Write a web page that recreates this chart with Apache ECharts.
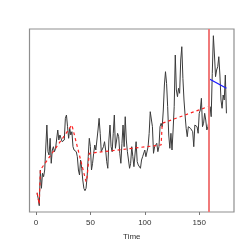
<!DOCTYPE html>
<html><head><meta charset="utf-8">
<script src="https://cdn.jsdelivr.net/npm/echarts@6/dist/echarts.min.js"></script>
<style>html,body{margin:0;padding:0;background:#fff}#c{width:249px;height:249px}</style>
</head><body><div id="c"></div>
<script>
// observed series (time = 1..175)
const values = [18.7,13.7,6.3,42,23.7,38.7,35.3,42,43.7,87,60.3,57,73.7,48.7,62,65.3,60.3,63.7,63.7,82,
72,77,75.3,70.3,72,72,93.7,97,85.3,73.7,83.7,77,80.3,65.3,62,62,60.3,55.3,42,37,
52,43.7,32,23.7,21.3,23.7,35.3,55.3,73.7,65.3,42,48.7,58.7,67,62,72,82,93.7,78.7,60.3,
60.3,65.3,70.3,62,50.3,43.7,72,87,65.3,60.3,78.7,97,63.7,62,78.7,75.3,58.7,48.7,68.7,87,
65.3,95.3,72,60.3,58.7,43.7,48.7,65.3,55.3,45.3,47,70.3,50.3,47,48.7,43.7,52,55.3,55.3,
62,55.3,57,65.3,78.7,100.3,102,85.3,58.7,65.3,65.3,68.7,60.3,65.3,85.3,88.7,85.3,102,127,140.3,
128.7,105.3,77,63.7,78.7,62,82,105.3,157,122,115.3,123.7,118.7,152,165.3,133.7,112,97,83.7,75.3,
85.3,85.3,83.7,83.7,80.3,65.3,87,88.7,85.3,78.7,98.7,102,113.7,85.3,88.7,98.7,92,82,85.3,92,
105.3,95.3,138.7,176.3,157,135.3,142,145.3,155.3,137,112,103.7,117,112,137,98.7];
const startTime = 1;
// fitted (red dashed) piecewise trend
const fitTime  = [1, 3, 4, 33, 46, 47, 49, 115, 116, 158];
const fitValue = [19.3, 8, 42, 87, 30.3, 35.3, 58.7, 67, 88.7, 105.3];
// forecast (blue)
const fcTime  = [159.8, 175];
const fcValue = [132.7, 123.7];
// break point (vertical red line)
const breakTime = 158.5;
const xTicks = [0, 50, 100, 150];

const obs = values.map((v, i) => [startTime + i, v]);
const fit = fitTime.map((t, i) => [t, fitValue[i]]);
const fc = fcTime.map((t, i) => [t, fcValue[i]]);

const chart = echarts.init(document.getElementById('c'), null, {renderer: 'canvas'});
chart.setOption({
  animation: false,
  grid: {left: 29.5, right: 15, top: 29, bottom: 37, show: true, borderColor: '#8f8f8f', borderWidth: 1.2, backgroundColor: 'transparent'},
  xAxis: {
    type: 'value', min: -5.96, max: 181.96,
    name: 'Time', nameLocation: 'middle', nameGap: 21,
    nameTextStyle: {fontFamily: 'Liberation Sans', fontSize: 8, color: '#333'},
    axisLine: {show: false},
    splitLine: {show: false},
    axisTick: {show: true, length: 3, lineStyle: {color: '#777'}, customValues: xTicks},
    axisLabel: {fontFamily: 'Liberation Sans', fontSize: 8, color: '#333', margin: 7, customValues: xTicks}
  },
  yAxis: {
    type: 'value', min: 0, max: 183,
    axisLine: {show: false}, axisTick: {show: false}, axisLabel: {show: false}, splitLine: {show: false}
  },
  series: [
    {type: 'line', data: obs, showSymbol: false, lineStyle: {color: '#3a3a3a', width: 1}, z: 2,
     markLine: {silent: true, symbol: 'none', label: {show: false}, data: [{xAxis: breakTime}],
       lineStyle: {color: '#f07a7a', width: 2, type: 'solid'}}},
    {type: 'line', data: fit, showSymbol: false, lineStyle: {color: '#ff2020', width: 1.2, type: [3, 3]}, z: 3},
    {type: 'line', data: fc, showSymbol: false, lineStyle: {color: '#1a1aff', width: 1.3}, z: 4}
  ]
});
</script></body></html>
